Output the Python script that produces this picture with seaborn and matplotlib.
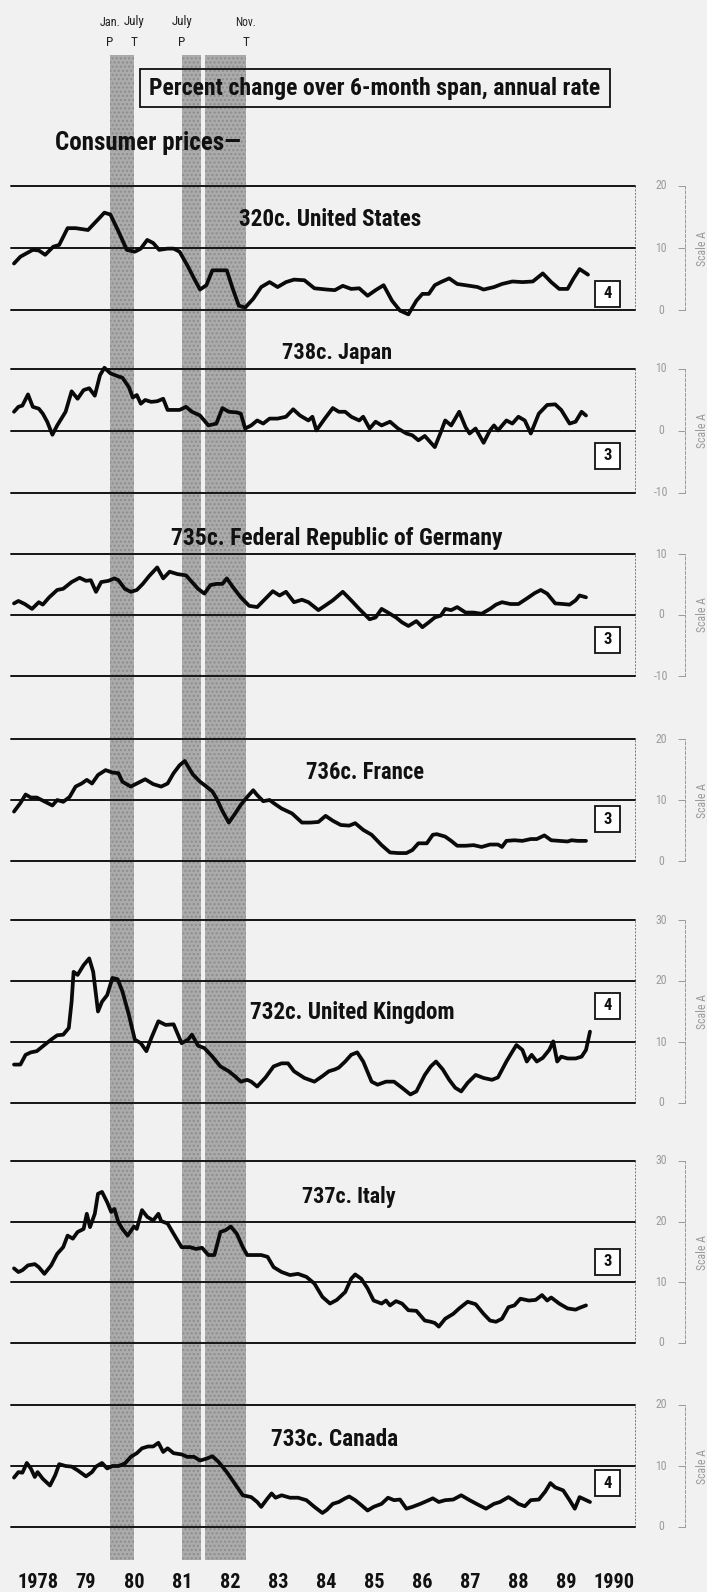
import numpy as np
import pandas as pd
import matplotlib
matplotlib.use("Agg")
import matplotlib.pyplot as plt
import matplotlib.transforms as mtrans
from matplotlib import font_manager as fm
from matplotlib.patches import Rectangle
import seaborn as sns

# ---------------- data (months since Jan 1978, percent) ----------------
us_months = [0, 1.6, 4.7, 6.2, 7.8, 9.8, 11.3, 13.4, 15.4, 18.5, 21.0, 22.6, 24.1, 26.1, 28.2, 30.2, 31.7, 33.3, 34.8,
             36.3, 38.4, 39.9, 41.4, 43.5, 45.0, 46.5, 48.1, 49.6, 51.6, 53.2, 54.7, 56.2, 57.8, 59.8, 61.8, 63.9, 65.9,
             68.0, 70.0, 72.6, 75.1, 78.2, 80.2, 82.2, 84.3, 86.3, 88.4, 90.4, 92.4, 94.5, 96.5, 98.6, 100.6, 102.1,
             103.7, 105.2, 106.7, 108.8, 110.8, 113.9, 115.9, 117.4, 120.0, 122.0, 124.6, 127.1, 129.7, 132.2, 134.3,
             136.3, 138.4, 139.9, 141.4, 143.5]
us_values = [7.5, 8.6, 9.7, 9.6, 8.9, 10.2, 10.5, 13.2, 13.2, 12.9, 14.6, 15.7, 15.4, 12.7, 9.7, 9.4, 9.9, 11.3, 10.8,
             9.7, 9.9, 9.9, 9.4, 7.0, 5.1, 3.3, 4.0, 6.4, 6.4, 6.4, 3.4, 0.7, 0.4, 1.8, 3.7, 4.5, 3.7,
             4.5, 4.9, 4.8, 3.5, 3.3, 3.2, 3.9, 3.4, 3.5, 2.3, 3.2, 4.0, 1.5, -0.1, -0.7, 1.5, 2.6,
             2.6, 4.0, 4.5, 5.1, 4.2, 3.9, 3.7, 3.3, 3.7, 4.2, 4.6, 4.5, 4.6, 5.9, 4.5,
             3.4, 3.4, 5.1, 6.6, 5.7]

jp_months = [0, 1.1, 2.1, 3.5, 4.7, 6.2, 7.2, 8.3, 9.6, 10.8, 12.9, 14.4, 15.9, 17.4, 18.8, 20.2, 21.5, 22.6, 24.1,
             26.1, 27.1, 28.7, 29.7, 30.7, 31.7, 32.8, 34.3, 35.8, 37.3, 38.4, 41.4, 43.0, 44.5, 46.5, 48.6, 50.6,
             52.1, 53.7, 55.7, 56.7, 57.8, 59.3, 60.8, 62.3, 63.9, 65.9, 68.0, 69.8, 71.5, 73.6, 74.6, 75.6, 77.7,
             79.7, 81.2, 82.8, 84.3, 86.3, 87.3, 88.9, 90.4, 91.9, 94.0, 96.0, 98.1, 99.6, 101.1, 102.7, 105.2,
             106.7, 107.8, 109.3, 111.3, 112.9, 113.9, 115.4, 117.4, 119.0, 120.0, 121.0, 123.1, 124.6, 126.1,
             127.7, 129.2, 131.2, 133.3, 135.3, 136.8, 138.9, 140.4, 141.9, 143.0]
jp_values = [3.1, 3.9, 4.1, 5.9, 3.9, 3.6, 2.8, 1.5, -0.6, 0.9, 3.1, 6.4, 5.2, 6.6, 6.9, 5.7, 9.0, 10.2, 9.3,
             8.8, 8.6, 7.1, 5.4, 5.8, 4.4, 5.0, 4.7, 4.8, 5.2, 3.4, 3.4, 3.9, 3.1, 2.5, 0.9, 1.2,
             3.7, 3.1, 3.0, 2.8, 0.4, 0.9, 1.7, 1.2, 2.0, 2.0, 2.3, 3.5, 2.5, 1.7, 2.3, 0.1, 2.0,
             3.7, 3.1, 3.1, 2.3, 1.7, 2.3, 0.4, 1.5, 0.9, 1.5, 0.4, -0.4, -0.7, -1.5, -0.8, -2.6,
             -0.2, 1.7, 0.9, 3.1, 0.6, -0.4, 0.4, -1.9, 0.1, 0.9, 0.1, 1.7, 1.2, 2.3,
             1.7, -0.4, 2.8, 4.2, 4.3, 3.4, 1.2, 1.5, 3.1, 2.5]

de_months = [0, 1.1, 2.7, 4.5, 6.2, 7.2, 8.8, 10.8, 12.3, 14.4, 16.4, 18.0, 19.2, 20.5, 21.8, 23.6, 25.1, 26.1, 27.7,
             29.2, 30.7, 32.2, 33.8, 35.8, 37.3, 38.9, 40.9, 43.0, 44.5, 46.0, 47.6, 49.1, 50.6, 52.1, 53.2, 54.7,
             56.7, 58.8, 60.8, 62.9, 64.7, 66.4, 68.0, 70.0, 72.0, 73.6, 76.1, 77.7, 79.7, 82.2, 84.3, 86.3, 88.9,
             90.4, 91.9, 93.5, 95.5, 97.0, 98.6, 100.6, 102.1, 103.7, 105.2, 106.7, 107.8, 109.3, 110.8, 112.9,
             114.9, 116.9, 119.0, 120.5, 122.0, 124.1, 126.1, 128.2, 130.2, 131.7, 133.3, 135.3, 137.3, 138.9,
             140.4, 141.4, 143.0]
de_values = [1.9, 2.3, 1.8, 1.0, 2.1, 1.7, 2.9, 4.1, 4.3, 5.4, 6.1, 5.6, 5.7, 3.8, 5.4, 5.6, 6.0, 5.7, 4.3,
             3.8, 4.1, 5.1, 6.4, 7.8, 6.0, 7.1, 6.7, 6.5, 5.4, 4.3, 3.5, 4.9, 5.1, 5.1, 6.0, 4.6,
             2.9, 1.5, 1.3, 2.7, 3.9, 3.2, 3.8, 2.1, 2.5, 2.1, 0.8, 1.5, 2.4, 3.8, 2.4, 1.0, -0.7,
             -0.4, 1.0, 0.4, -0.4, -1.2, -1.8, -1.0, -2.0, -1.2, -0.4, -0.1, 1.0, 0.8, 1.3, 0.4,
             0.4, 0.2, 1.0, 1.7, 2.1, 1.8, 1.8, 2.7, 3.6, 4.1, 3.5, 1.9, 1.8, 1.7,
             2.4, 3.2, 2.9]

fr_months = [0, 1.6, 2.9, 4.2, 5.7, 7.8, 9.6, 10.8, 12.3, 13.9, 15.4, 16.9, 18.2, 19.5, 21.0, 22.9, 24.6, 26.1, 27.1,
             29.2, 30.7, 32.8, 34.8, 36.8, 38.4, 39.9, 41.4, 42.7, 43.5, 44.7, 46.5, 48.1, 49.6, 50.6, 52.1, 53.7,
             55.2, 56.7, 58.3, 59.8, 60.8, 62.3, 63.9, 64.9, 66.9, 69.5, 72.0, 74.1, 76.1, 77.9, 79.7, 81.7, 83.8,
             85.3, 87.3, 89.4, 91.9, 94.0, 96.0, 98.1, 99.6, 101.1, 103.2, 104.7, 105.7, 107.8, 109.3, 110.8,
             112.9, 114.9, 116.9, 119.0, 121.0, 122.0, 123.1, 125.1, 127.1, 129.2, 130.7, 132.6, 134.3, 136.3,
             138.4, 139.4, 140.9, 143.0]
fr_values = [8.1, 9.5, 10.9, 10.4, 10.4, 9.7, 9.1, 10.0, 9.7, 10.5, 12.2, 12.7, 13.3, 12.7, 14.1, 14.9, 14.5, 14.4, 13.0,
             12.2, 12.7, 13.4, 12.6, 12.2, 12.7, 14.4, 15.7, 16.4, 15.5, 14.2, 13.0, 12.2, 11.4, 10.3, 8.2, 6.3,
             7.7, 9.2, 10.5, 11.6, 10.8, 9.8, 10.0, 9.5, 8.6, 7.8, 6.3, 6.3, 6.4, 7.4, 6.6, 5.9, 5.8,
             6.2, 5.1, 4.3, 2.6, 1.4, 1.3, 1.3, 1.8, 2.9, 2.9, 4.3, 4.4, 4.0, 3.3, 2.5,
             2.5, 2.6, 2.3, 2.7, 2.7, 2.3, 3.3, 3.4, 3.3, 3.6, 3.6, 4.2, 3.4, 3.3,
             3.2, 3.4, 3.3, 3.3]

uk_months = [0, 1.6, 2.9, 4.2, 5.7, 7.2, 9.3, 10.8, 12.3, 13.7, 14.4, 14.9, 15.9, 17.4, 18.8, 19.8, 21.0, 22.0, 23.3,
             24.6, 25.9, 27.1, 28.7, 30.2, 31.7, 33.1, 34.3, 36.1, 37.9, 39.9, 41.9, 43.5, 44.5, 46.0, 47.6, 49.6,
             51.6, 53.7, 55.2, 56.7, 58.3, 59.3, 60.8, 62.9, 64.9, 66.9, 68.5, 70.0, 72.6, 75.1, 77.1, 78.7, 80.2,
             81.2, 82.8, 84.3, 85.8, 87.3, 89.4, 90.9, 93.0, 95.0, 97.0, 99.1, 100.6, 102.7, 104.2, 105.5, 107.2,
             108.8, 110.3, 111.8, 113.4, 115.4, 117.4, 119.5, 121.0, 123.1, 124.1, 125.6, 127.1, 128.2, 129.4,
             130.7, 132.2, 133.8, 134.8, 135.8, 136.8, 138.4, 140.4, 141.9, 143.0, 144.0]
uk_values = [6.3, 6.3, 7.9, 8.3, 8.5, 9.3, 10.4, 11.1, 11.2, 12.3, 16.6, 21.5, 21.0, 22.6, 23.7, 21.5, 15.0, 16.6, 17.7,
             20.5, 20.3, 18.3, 14.5, 10.4, 9.8, 8.5, 10.6, 13.4, 12.8, 12.9, 9.8, 10.4, 11.2, 9.4, 9.0, 7.6,
             6.0, 5.2, 4.4, 3.5, 3.8, 3.5, 2.7, 4.2, 6.0, 6.5, 6.5, 5.2, 4.1, 3.5, 4.4, 5.2, 5.5,
             5.8, 6.8, 7.9, 8.3, 6.8, 3.5, 3.0, 3.5, 3.5, 2.5, 1.4, 1.9, 4.6, 6.0, 6.8, 5.5,
             3.8, 2.5, 1.9, 3.3, 4.6, 4.1, 3.8, 4.2, 6.8, 7.9, 9.5, 8.7, 6.8, 7.9,
             6.8, 7.4, 8.7, 10.1, 6.8, 7.6, 7.3, 7.3, 7.6, 8.7, 11.7]

it_months = [0, 1.1, 2.1, 3.5, 5.2, 6.2, 7.6, 9.3, 10.8, 12.3, 13.4, 14.7, 15.9, 17.4, 18.2, 19.0, 20.2, 21.0, 22.0,
             23.3, 24.3, 25.1, 26.1, 27.1, 28.4, 30.0, 30.7, 32.0, 33.3, 34.8, 36.1, 36.8, 38.4, 39.9, 41.9, 44.0,
             45.5, 47.0, 48.6, 50.1, 51.6, 52.9, 54.2, 55.7, 57.2, 58.3, 59.8, 61.8, 63.4, 64.9, 66.9, 69.0, 71.0,
             73.1, 75.1, 77.1, 79.0, 80.7, 82.8, 84.3, 85.3, 86.8, 88.4, 89.9, 91.9, 93.0, 94.0, 95.5, 97.0, 98.6,
             100.6, 102.7, 104.2, 105.2, 106.2, 107.8, 109.8, 111.3, 113.4, 115.4, 117.4, 119.0, 120.5, 122.0,
             123.6, 125.1, 126.6, 128.7, 130.4, 132.0, 133.3, 134.3, 136.3, 138.4, 140.4, 141.4, 143.0]
it_values = [12.3, 11.7, 12.0, 12.8, 13.0, 12.5, 11.4, 12.8, 14.7, 15.8, 17.7, 17.2, 18.3, 18.8, 21.3, 19.1, 21.3, 24.6, 24.9,
             23.2, 21.6, 22.1, 19.9, 18.8, 17.7, 19.2, 18.8, 21.9, 20.8, 20.2, 21.3, 20.1, 19.7, 18.0, 15.8, 15.8,
             15.5, 15.7, 14.5, 14.5, 18.3, 18.6, 19.2, 18.0, 15.8, 14.5, 14.5, 14.5, 14.2, 12.5, 11.7, 11.2, 11.4,
             10.9, 9.8, 7.6, 6.5, 7.1, 8.4, 10.6, 11.3, 10.6, 9.0, 7.0, 6.5, 7.0, 6.2, 6.9, 6.5, 5.4,
             5.3, 3.7, 3.5, 3.3, 2.7, 4.0, 4.8, 5.7, 6.8, 6.4, 4.8, 3.7, 3.5, 4.0,
             5.9, 6.2, 7.3, 7.0, 7.1, 7.9, 7.0, 7.5, 6.5, 5.7, 5.5, 5.8, 6.2]

ca_months = [0, 1.1, 2.1, 3.2, 4.2, 5.2, 5.9, 7.2, 9.0, 10.3, 11.3, 12.9, 14.4, 15.9, 18.0, 19.5, 20.5, 22.0, 23.3,
             24.6, 26.1, 27.7, 29.2, 30.7, 32.0, 33.5, 34.8, 36.1, 37.3, 38.4, 39.9, 41.9, 43.3, 45.0, 46.5, 48.1,
             49.6, 51.1, 53.2, 55.2, 57.2, 59.3, 60.8, 61.8, 63.4, 64.4, 65.4, 66.9, 69.0, 71.0, 73.1, 75.1, 77.1,
             78.2, 79.7, 81.2, 82.8, 83.8, 85.3, 86.8, 88.4, 89.9, 91.9, 93.5, 95.0, 96.5, 98.1, 99.6, 101.6,
             103.7, 104.7, 106.2, 107.8, 109.8, 111.8, 113.9, 115.9, 118.0, 120.0, 121.5, 123.6, 125.1, 126.1,
             127.7, 129.2, 131.2, 132.8, 134.1, 135.3, 137.3, 138.9, 140.2, 141.4, 142.7, 144.0]
ca_values = [8.1, 9.0, 8.9, 10.5, 9.6, 8.2, 9.0, 7.9, 6.8, 8.5, 10.3, 10.0, 9.9, 9.3, 8.3, 9.0, 9.9, 10.5, 9.6,
             10.0, 10.0, 10.4, 11.5, 12.1, 12.9, 13.2, 13.2, 13.8, 12.3, 12.9, 12.1, 11.9, 11.5, 11.5, 10.9, 11.2,
             11.6, 10.7, 9.0, 7.1, 5.2, 4.9, 4.1, 3.3, 4.7, 5.5, 4.8, 5.2, 4.8, 4.8, 4.4, 3.3, 2.3,
             2.8, 3.8, 4.1, 4.7, 5.0, 4.4, 3.6, 2.7, 3.3, 3.8, 4.8, 4.4, 4.5, 3.0, 3.3, 3.8,
             4.4, 4.7, 4.1, 4.4, 4.5, 5.2, 4.4, 3.7, 3.0, 3.8, 4.1, 4.9, 4.3, 3.8,
             3.4, 4.4, 4.5, 5.8, 7.2, 6.5, 6.0, 4.4, 3.0, 4.9, 4.5, 4.1]

panel_titles = ["320c. United States", "738c. Japan", "735c. Federal Republic of Germany", "736c. France",
                "732c. United Kingdom", "737c. Italy", "733c. Canada"]
panel_limits = [(0, 20), (-10, 10), (-10, 10), (0, 20), (0, 30), (0, 30), (0, 20)]
panel_scale_ticks = [[0, 10, 20], [-10, 0, 10], [-10, 0, 10], [0, 10, 20], [0, 10, 20, 30], [0, 10, 20, 30], [0, 10, 20]]
panel_box_numbers = ["4", "3", "3", "3", "4", "3", "4"]
panel_months = [us_months, jp_months, de_months, fr_months, uk_months, it_months, ca_months]
panel_values = [us_values, jp_values, de_values, fr_values, uk_values, it_values, ca_values]

recession_starts = [1980.0, 1981.5, 1981.98]
recession_ends = [1980.5, 1981.9, 1982.83]
turning_labels = ["Jan.", "July", "July", "Nov."]
turning_dates = [1980.0, 1980.5, 1981.5, 1982.83]
turning_types = ["P", "T", "P", "T"]

year_ticks = list(range(1978, 1991))
year_labels = ["1978"] + [str(y)[2:] for y in range(1979, 1990)] + ["1990"]

# ---------------- fonts ----------------
sns.set_theme(style="white")
_names = {f.name for f in fm.fontManager.ttflist}
_stretch = "normal"
_family = None
for cand in ["Liberation Sans Narrow", "Roboto Condensed", "Noto Sans Condensed", "Open Sans Condensed",
             "DejaVu Sans Condensed", "Noto Sans SemiCondensed", "Open Sans SemiCondensed"]:
    if cand in _names:
        _family = cand
        break
if _family is None:
    if any(f.name == "DejaVu Sans" and str(f.stretch) in ("condensed", "semi-condensed") for f in fm.fontManager.ttflist):
        _family, _stretch = "DejaVu Sans", "condensed"
    elif "Roboto" in _names:
        _family = "Roboto"
    else:
        _family = "DejaVu Sans"
plt.rcParams["font.family"] = [_family, "DejaVu Sans"]
plt.rcParams["font.stretch"] = _stretch

# ---------------- layout ----------------
W, H = 707, 1592
fig = plt.figure(figsize=(W / 100, H / 100), dpi=100)
fig.patch.set_facecolor("#f1f1f1")
renderer = fig.canvas.get_renderer()

X_LEFT, X_RIGHT = 10.5, 635.0
PX_PER_YEAR = 48.0
T0 = 1978.0 - (14.0 - X_LEFT) / PX_PER_YEAR
T1 = 1978.0 + (X_RIGHT - 14.0) / PX_PER_YEAR


def rect(x0, y0, x1, y1):
    return [x0 / W, 1 - y1 / H, (x1 - x0) / W, (y1 - y0) / H]


def fit_text(cx, cy, s, width_px, size=14, ha="center", **kw):
    """figure text at pixel position, font size scaled so the text is width_px wide"""
    x = cx / W
    t = fig.text(x, 1 - cy / H, s, ha=ha, va="center", fontsize=size, **kw)
    w = t.get_window_extent(renderer).width
    if w > 0:
        t.set_fontsize(min(size * width_px / w, size * 1.25))
    return t


# recession shading background
ax_bg = fig.add_axes(rect(X_LEFT, 55, X_RIGHT, 1560))
ax_bg.set_xlim(T0, T1)
ax_bg.set_ylim(0, 1)
ax_bg.axis("off")
for s, e in zip(recession_starts, recession_ends):
    ax_bg.axvspan(s, e, facecolor="#ababab", edgecolor="#8c8c8c", hatch="....", lw=0)
ax_bg.set_zorder(-1)
plt.rcParams["hatch.linewidth"] = 0.4

# turning point labels
for lab, d, tp in zip(turning_labels, turning_dates, turning_types):
    xp = X_LEFT + (d - T0) * PX_PER_YEAR
    fit_text(xp, 22, lab, 21, size=9, color="#222")
    fig.text(xp / W, 1 - 42 / H, tp, ha="center", va="center", fontsize=9.5, color="#222")

# header box
fig.patches.append(Rectangle((140 / W, 1 - 107 / H), 470 / W, 38 / H, transform=fig.transFigure,
                             fill=False, ec="#111", lw=1.3))
fit_text(375, 88, "Percent change over 6-month span, annual rate", 451, size=15, fontweight="bold", color="#111")
fit_text(55, 143, "Consumer prices\u2014", 186, size=15, ha="left", fontweight="bold", color="#111")

panel_px = [(186, 310), (369, 493), (554, 676), (739, 861), (920, 1103), (1161, 1343), (1405, 1527)]
title_px = [(330, 220, 183), (337, 353, 110), (337, 538, 332), (365, 772, 118), (352, 1013, 206),
            (349, 1197, 94), (335, 1440, 127)]
box_cy = [294, 456, 640, 819, 1006, 1262, 1483]

SCALE_X = (685 - X_LEFT) / (X_RIGHT - X_LEFT)
LABEL_X = (661 - X_LEFT) / (X_RIGHT - X_LEFT)
SCALEA_X = (702 - X_LEFT) / (X_RIGHT - X_LEFT)

for i in range(7):
    top, bot = panel_px[i]
    ax = fig.add_axes(rect(X_LEFT, top, X_RIGHT, bot))
    ax.set_facecolor("none")
    df = pd.DataFrame({"date": 1978.0 + np.array(panel_months[i]) / 12.0, "value": panel_values[i]})
    sns.lineplot(data=df, x="date", y="value", ax=ax, color="#0a0a0a", linewidth=2.7, estimator=None,
                 sort=False, zorder=5)
    for ln in ax.lines:
        ln.set_clip_on(False)
        ln.set_solid_joinstyle("round")
    lo, hi = panel_limits[i]
    ax.set_xlim(T0, T1)
    ax.set_ylim(lo, hi)
    for v in range(lo, hi + 1, 10):
        ax.axhline(v, color="#151515", lw=1.4, clip_on=False, zorder=3)
    ax.axvline(T1, color="#777", lw=0.7, ls=(0, (2, 1.5)), clip_on=False)
    for sp in ["left", "top", "bottom"]:
        ax.spines[sp].set_visible(False)
    ax.spines["right"].set_visible(True)
    ax.spines["right"].set_position(("axes", SCALE_X))
    ax.spines["right"].set_color("#9a9a9a")
    ax.spines["right"].set_linewidth(0.7)
    ax.spines["right"].set_linestyle((0, (3, 2)))
    ax.yaxis.tick_right()
    ax.set_yticks(panel_scale_ticks[i])
    ax.tick_params(axis="y", direction="in", length=5, width=0.7, color="#9a9a9a", labelright=False,
                   labelleft=False)
    ax.set_xlabel("")
    ax.set_ylabel("")
    blend = mtrans.blended_transform_factory(ax.transAxes, ax.transData)
    for v in panel_scale_ticks[i]:
        ax.text(LABEL_X, v, str(v), transform=blend, ha="center", va="center", fontsize=8.5, color="#9a9a9a")
    ax.text(SCALEA_X, 0.5, "Scale A", transform=ax.transAxes, rotation=90, ha="center", va="center",
            fontsize=8.5, color="#9a9a9a")
    if i < 6:
        ax.set_xticks([])
    else:
        ax.set_xticks([y + 0.5 for y in year_ticks])
        ax.set_xticklabels(year_labels)
        ax.tick_params(axis="x", length=0, pad=33, labelsize=15)
        labs = ax.get_xticklabels()
        for t in labs:
            t.set_fontweight("bold")
            t.set_color("#111")
        w0 = labs[0].get_window_extent(renderer).width
        if w0 > 0:
            ax.tick_params(axis="x", labelsize=min(15 * 41 / w0, 18))
    tx, ty, tw = title_px[i]
    fit_text(tx, ty, panel_titles[i], tw, size=15, fontweight="bold", color="#111")
    cy = box_cy[i]
    fig.patches.append(Rectangle((595 / W, 1 - (cy + 13) / H), 25 / W, 26 / H, transform=fig.transFigure,
                                 fc="white", ec="#111", lw=1.3, zorder=4))
    fig.text(607.5 / W, 1 - cy / H, panel_box_numbers[i], ha="center", va="center", fontsize=12,
             fontweight="bold", color="#111", zorder=5)

fig.savefig("out.png", dpi=100, facecolor=fig.get_facecolor())
